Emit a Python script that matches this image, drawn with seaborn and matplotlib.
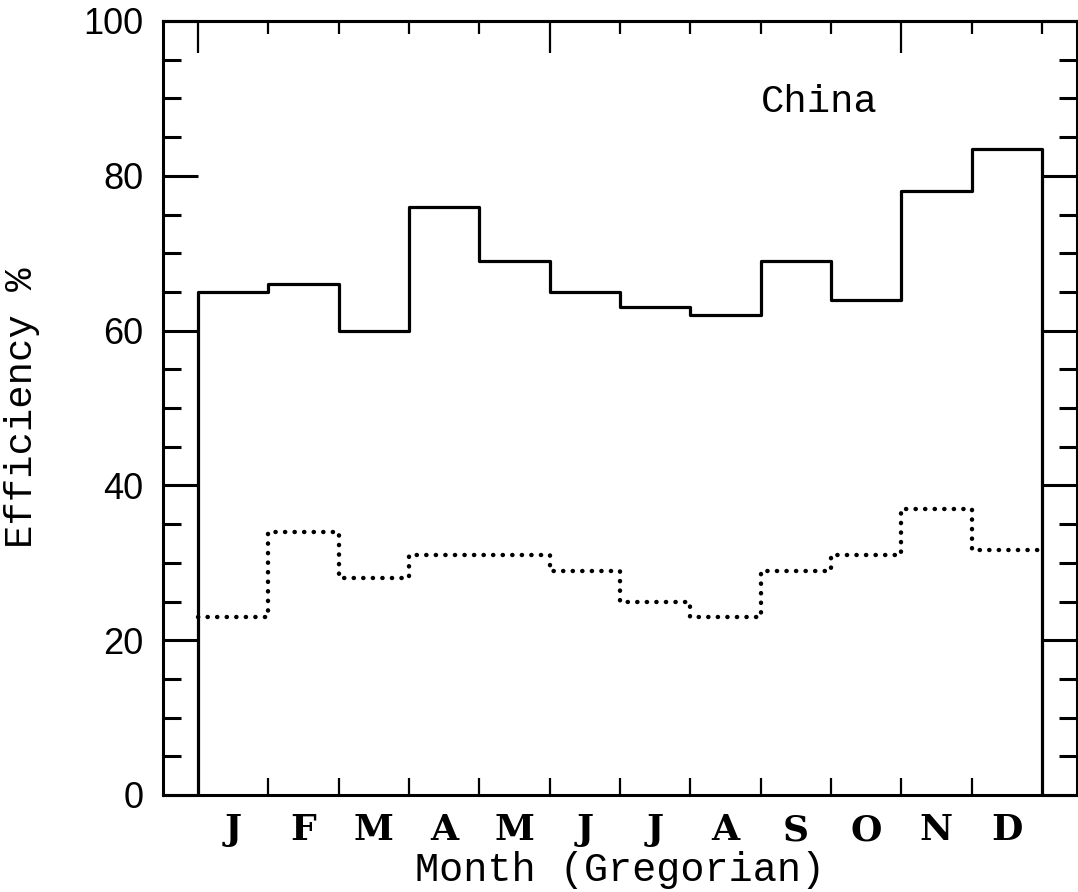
import numpy as np
import pandas as pd
import seaborn as sns
import matplotlib.pyplot as plt
from matplotlib.ticker import MultipleLocator, FixedLocator, NullFormatter

# month letters on the x axis
months = ["J", "F", "M", "A", "M", "J", "J", "A", "S", "O", "N", "D"]
# solid curve (upper) and dotted curve (lower), efficiency %
upper = [65, 66, 60, 76, 69, 65, 63, 62, 69, 64, 78, 83.5]
lower = [23, 34, 28, 31, 31, 29, 25, 23, 29, 31, 37, 31.7]

sns.set_theme(style="white")
plt.rcParams["font.family"] = ["Liberation Sans", "DejaVu Sans"]
plt.rcParams.update({"text.color": "black", "axes.labelcolor": "black",
                     "xtick.color": "black", "ytick.color": "black"})

edges = np.arange(len(months) + 1)

# step outlines, drawn with steps-post
up_df = pd.DataFrame({
    "x": np.concatenate([[0], edges, [edges[-1]]]),
    "y": np.concatenate([[0], upper, [upper[-1]], [0]]),
})
lo_df = pd.DataFrame({"x": edges, "y": lower + [lower[-1]]})

fig = plt.figure(figsize=(10.78, 8.92), dpi=100)
ax = fig.add_axes([163 / 1078, 1 - 795 / 892, 914 / 1078, 774 / 892])

sns.lineplot(data=up_df, x="x", y="y", ax=ax, color="black", lw=2.3,
             drawstyle="steps-post", estimator=None, sort=False)
sns.lineplot(data=lo_df, x="x", y="y", ax=ax, color="black", lw=3.2,
             drawstyle="steps-post", estimator=None, sort=False,
             linestyle=(0, (0.05, 2.1)), dash_capstyle="round")

ax.set_xlim(-0.5, 12.5)
ax.set_ylim(0, 100)

for s in ax.spines.values():
    s.set_visible(True)
    s.set_color("black")
    s.set_linewidth(2.2)

# y ticks both sides
ax.yaxis.set_major_locator(MultipleLocator(20))
ax.yaxis.set_minor_locator(MultipleLocator(5))
ax.tick_params(axis="y", which="major", direction="in", length=25, width=2.2,
               left=True, right=True, labelsize=26, pad=14)
ax.tick_params(axis="y", which="minor", direction="in", length=13, width=2.2,
               left=True, right=True)

# x: bottom ticks at month boundaries, labels at month centres
ax.xaxis.set_major_locator(FixedLocator(edges[1:-1]))
ax.xaxis.set_major_formatter(NullFormatter())
ax.set_xticks(edges[:-1] + 0.5, months, minor=True)
ax.tick_params(axis="x", which="major", direction="in", length=12, width=1.6,
               bottom=True, top=False)
ax.tick_params(axis="x", which="minor", length=0, pad=13, bottom=True)
for t in ax.get_xticklabels(minor=True):
    t.set_fontfamily("DejaVu Serif")
    t.set_fontweight("bold")
    t.set_fontsize(26)

# top: long ticks every 5 months, short ticks each month
top = ax.secondary_xaxis("top")
top.set_xticks([0, 5, 10])
top.xaxis.set_minor_locator(FixedLocator(edges))
top.tick_params(which="major", direction="in", length=23, width=1.6, labeltop=False)
top.tick_params(which="minor", direction="in", length=9, width=1.6)
top.spines["top"].set_linewidth(2.2)

ax.set_xlabel("Month (Gregorian)", fontsize=29, family="Liberation Mono", labelpad=3)
ax.set_ylabel("Efficiency %", fontsize=28, family="Liberation Mono")
ax.yaxis.set_label_coords(-0.135, 0.5)

ax.text(8.0, 89.5, "China", fontsize=28, family="Liberation Mono",
        ha="left", va="center")

fig.savefig("out.png", dpi=100, facecolor="white")
